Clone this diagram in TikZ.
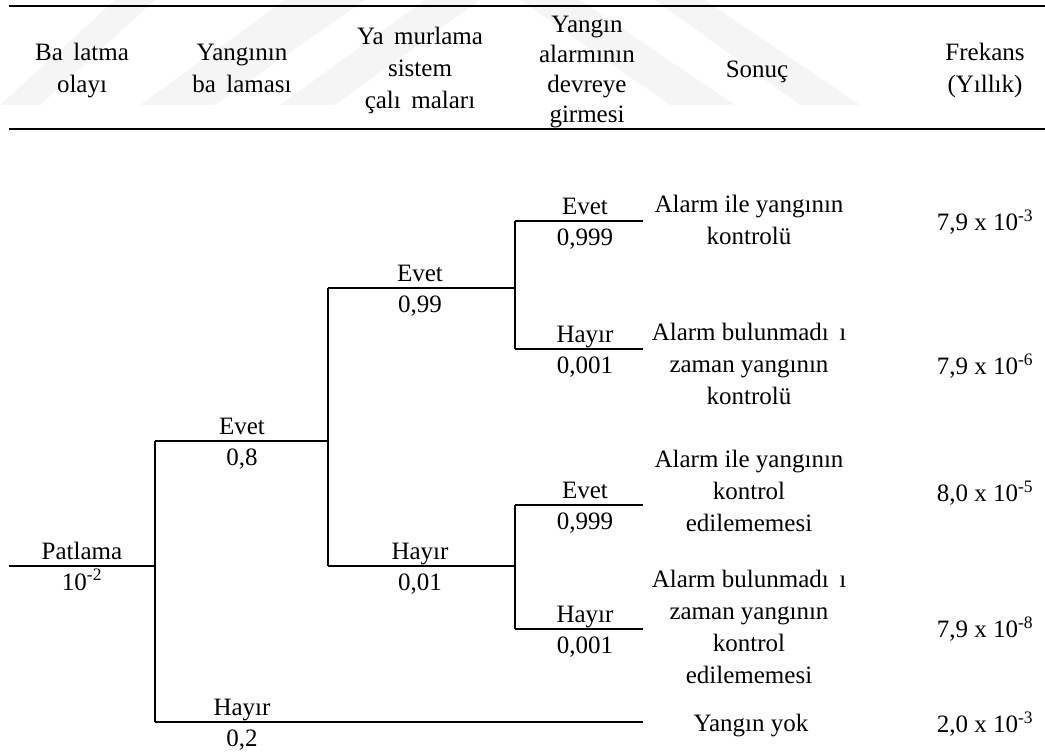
\documentclass[tikz,border=0pt]{standalone}
\usepackage{fontspec}
\setmainfont{Liberation Serif}
% blank space left where the Turkish letters s-cedilla / g-breve drop out
\newcommand\lostglyph{\hspace{0.42em}}
% fixed height above the first line and depth below the last one,
% so that every text block is centred on its lines alone
\newcommand\topstrut{\rule{0pt}{18pt}}
\newcommand\botstrut{\rule[-6pt]{0pt}{6pt}}
\begin{document}
\begin{tikzpicture}[x=1pt,y=-1pt,
  every node/.style={font=\fontsize{25}{32}\selectfont, inner sep=0pt, align=center},
  block/.style={execute at begin node=\topstrut, execute at end node=\botstrut},
  headtight/.style={font=\fontsize{25}{30}\selectfont},
  branch/.style={line width=1.4pt},
  tablerule/.style={line width=1.4pt},
  lbl/.style={anchor=base},
  wmark/.style={fill=black!4, draw=none},
]
\useasboundingbox (0,0) rectangle (1045,753);

% faint watermark bands behind the heading row
\fill[wmark] (0,105) -- (40,105) -- (155,0) -- (115,0) -- cycle;
\fill[wmark] (140,105) -- (215,105) -- (365,0) -- (285,0) -- cycle;
\fill[wmark] (280,105) -- (335,105) -- (480,0) -- (425,0) -- cycle;
\fill[wmark] (520,0) -- (580,0) -- (735,105) -- (670,105) -- cycle;
\fill[wmark] (655,0) -- (705,0) -- (860,105) -- (800,105) -- cycle;

% header rules
\coordinate (hrTL) at (9,6);
\coordinate (hrTR) at (1045,6);
\coordinate (hrBL) at (9,129);
\coordinate (hrBR) at (1045,129);
\draw[tablerule] (hrTL) -- (hrTR);
\draw[tablerule] (hrBL) -- (hrBR);

% column headings
\node[block] (h1) at (82,71) {Ba\lostglyph latma\\olayı};
\node[block] (h2) at (242,71) {Yangının\\ba\lostglyph laması};
\node[block] (h3) at (420,71) {Ya\lostglyph murlama\\sistem\\çalı\lostglyph maları};
\node[block,headtight] (h4) at (587,72) {Yangın\\alarmının\\devreye\\girmesi};
\node[block] (h5) at (757,71) {Sonuç};
\node[block] (h6) at (985,71) {Frekans\\(Yıllık)};

% branch points
\coordinate (root) at (9,566);
\coordinate (a)    at (155,566);
\coordinate (aT)   at (155,441);
\coordinate (aB)   at (155,722);
\coordinate (b)    at (328,441);
\coordinate (bT)   at (328,288);
\coordinate (bB)   at (328,566);
\coordinate (c1)   at (515,288);
\coordinate (c1T)  at (515,221);
\coordinate (c1B)  at (515,349);
\coordinate (c2)   at (515,566);
\coordinate (c2T)  at (515,505);
\coordinate (c2B)  at (515,629);
\coordinate (e1)   at (643,221);
\coordinate (e2)   at (643,349);
\coordinate (e3)   at (643,505);
\coordinate (e4)   at (643,629);
\coordinate (e5)   at (643,722);

% tree
\draw[branch] (root) -- (a);
\draw[branch] (aT) -- (aB);
\draw[branch] (aT) -- (b);
\draw[branch] (aB) -- (e5);
\draw[branch] (bT) -- (bB);
\draw[branch] (bT) -- (c1);
\draw[branch] (bB) -- (c2);
\draw[branch] (c1T) -- (c1B);
\draw[branch] (c1T) -- (e1);
\draw[branch] (c1B) -- (e2);
\draw[branch] (c2T) -- (c2B);
\draw[branch] (c2T) -- (e3);
\draw[branch] (c2B) -- (e4);

% branch labels
\node[lbl] (pA) at (82,559) {Patlama};
\node[lbl] (pB) at (82,590) {10\textsuperscript{-2}};
\node[lbl] (yA) at (242,434) {Evet};
\node[lbl] (yB) at (242,465) {0,8};
\node[lbl] (nA) at (242,715) {Hayır};
\node[lbl] (nB) at (242,746) {0,2};
\node[lbl] (syA) at (420,281) {Evet};
\node[lbl] (syB) at (420,312) {0,99};
\node[lbl] (snA) at (420,559) {Hayır};
\node[lbl] (snB) at (420,590) {0,01};
\node[lbl] (ay1A) at (585,214) {Evet};
\node[lbl] (ay1B) at (585,245) {0,999};
\node[lbl] (an1A) at (585,342) {Hayır};
\node[lbl] (an1B) at (585,373) {0,001};
\node[lbl] (ay2A) at (585,498) {Evet};
\node[lbl] (ay2B) at (585,529) {0,999};
\node[lbl] (an2A) at (585,622) {Hayır};
\node[lbl] (an2B) at (585,653) {0,001};

% outcomes
\node[block] (o1) at (749,223) {Alarm ile yangının\\kontrolü};
\node[block] (o2) at (749,367) {Alarm bulunmadı\lostglyph ı\\zaman yangının\\kontrolü};
\node[block] (o3) at (749,494) {Alarm ile yangının\\kontrol\\edilememesi};
\node[block] (o4) at (749,630) {Alarm bulunmadı\lostglyph ı\\zaman yangının\\kontrol\\edilememesi};
\node[block] (o5) at (751,725) {Yangın yok};

% frequencies
\node[block] (f1) at (985,223) {7,9 x 10\textsuperscript{-3}};
\node[block] (f2) at (985,367) {7,9 x 10\textsuperscript{-6}};
\node[block] (f3) at (985,494) {8,0 x 10\textsuperscript{-5}};
\node[block] (f4) at (985,630) {7,9 x 10\textsuperscript{-8}};
\node[block] (f5) at (985,725) {2,0 x 10\textsuperscript{-3}};
\end{tikzpicture}
\end{document}
